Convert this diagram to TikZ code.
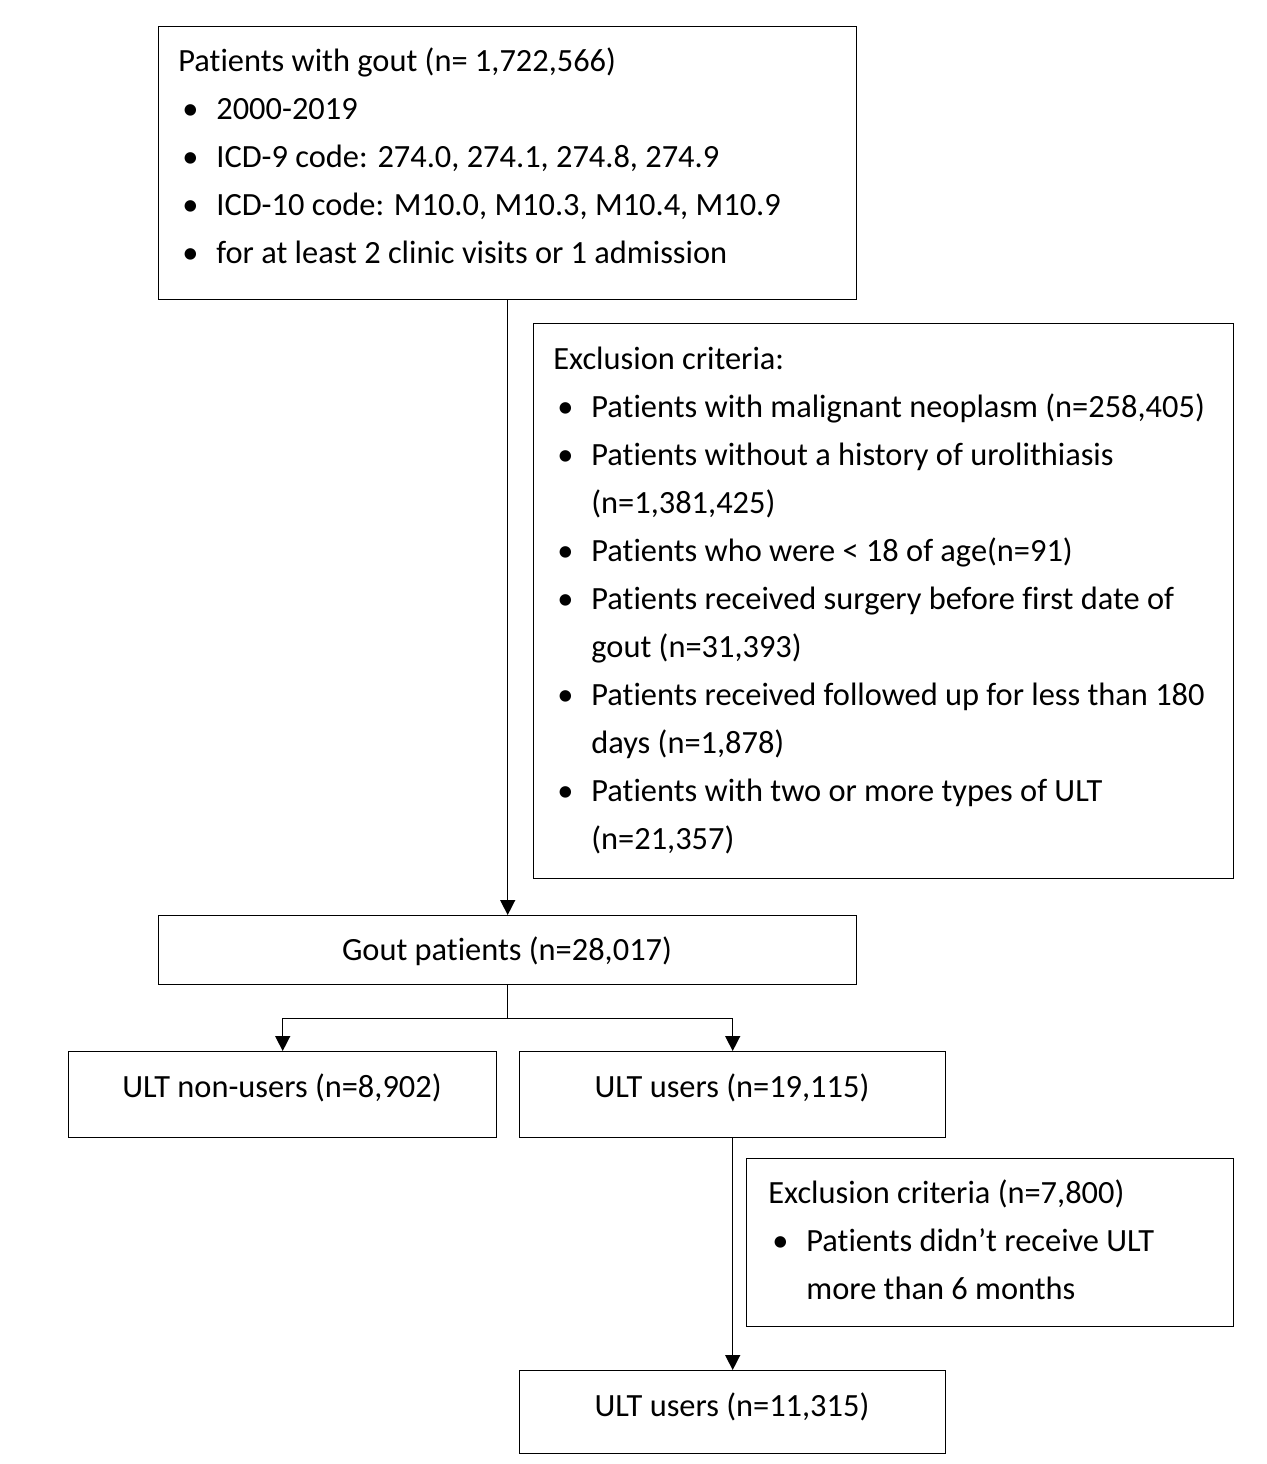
\documentclass[tikz,border=0pt]{standalone}
\usepackage{fontspec}
\setmainfont{Carlito}[Ligatures=NoCommon]
\usepackage{array}
\usetikzlibrary{arrows.meta}
\tikzset{
  box/.style={draw, line width=0.7pt, anchor=north west, inner sep=0pt},
  arr/.style={line width=0.7pt, -{Triangle[length=7.5pt,width=7.5pt]}},
  conn/.style={line width=0.7pt},
  txt/.style={inner sep=0pt, font=\fontsize{16.2}{24}\selectfont},
}
\newcommand{\bl}{\textbullet}
\begin{document}
\begin{tikzpicture}[x=0.5pt,y=-0.5pt]
\useasboundingbox (0,0) rectangle (1267,1464);
% boxes
\node[box, minimum width=349pt, minimum height=136.5pt] (b1) at (158,26) {};
\node[box, minimum width=350pt, minimum height=277.5pt] (ex1) at (533,323) {};
\node[box, minimum width=349pt, minimum height=34.5pt] (gout) at (158,915) {};
\node[box, minimum width=214pt, minimum height=43pt] (non) at (68,1051) {};
\node[box, minimum width=213pt, minimum height=43pt] (users) at (519,1051) {};
\node[box, minimum width=243.5pt, minimum height=84pt] (ex2) at (746,1158) {};
\node[box, minimum width=213pt, minimum height=41.5pt] (final) at (519,1370) {};
% texts
\node[txt, anchor=base west] (t1) at (178,71) {%
\begin{tabular}[t]{@{}p{19pt}@{}l@{}}
\multicolumn{2}{@{}l@{}}{Patients with gout (n= 1,722,566)}\\
\hspace{2pt}\bl & 2000-2019\\
\hspace{2pt}\bl & ICD-9 code: 274.0, 274.1, 274.8, 274.9\\
\hspace{2pt}\bl & ICD-10 code: M10.0, M10.3, M10.4, M10.9\\
\hspace{2pt}\bl & for at least 2 clinic visits or 1 admission
\end{tabular}};
\node[txt, anchor=base west] (t2) at (553,369) {%
\begin{tabular}[t]{@{}p{19pt}@{}l@{}}
\multicolumn{2}{@{}l@{}}{Exclusion criteria:}\\
\hspace{2pt}\bl & Patients with malignant neoplasm (n=258,405)\\
\hspace{2pt}\bl & Patients without a history of urolithiasis\\
 & (n=1,381,425)\\
\hspace{2pt}\bl & Patients who were < 18 of age(n=91)\\
\hspace{2pt}\bl & Patients received surgery before first date of\\
 & gout (n=31,393)\\
\hspace{2pt}\bl & Patients received followed up for less than 180\\
 & days (n=1,878)\\
\hspace{2pt}\bl & Patients with two or more types of ULT\\
 & (n=21,357)
\end{tabular}};
\node[txt, anchor=base west] (t3) at (768,1203) {%
\begin{tabular}[t]{@{}p{19pt}@{}l@{}}
\multicolumn{2}{@{}l@{}}{Exclusion criteria (n=7,800)}\\
\hspace{2pt}\bl & Patients didn’t receive ULT\\
 & more than 6 months
\end{tabular}};
\node[txt, anchor=base] (tg) at (507,960) {Gout patients (n=28,017)};
\node[txt, anchor=base] (tn) at (282,1097) {ULT non-users (n=8,902)};
\node[txt, anchor=base] (tu) at (732,1097) {ULT users (n=19,115)};
\node[txt, anchor=base] (tf) at (732,1416) {ULT users (n=11,315)};
% connectors
\draw[arr] (b1.south) -- (gout.north);
\draw[conn] (gout.south) -- ++(0,33) coordinate (br);
\draw[arr] (br) -| (non.north);
\draw[arr] (br) -| (users.north);
\draw[arr] (users.south) -- (final.north);
\end{tikzpicture}
\end{document}
